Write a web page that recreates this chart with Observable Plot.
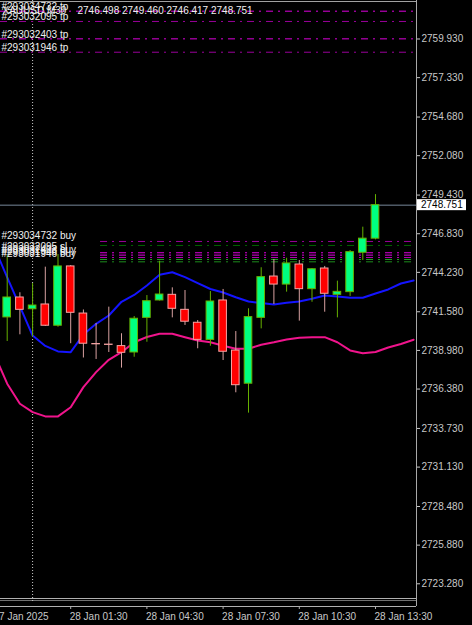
<!DOCTYPE html>
<html><head><meta charset="utf-8">
<script src="https://cdn.jsdelivr.net/npm/d3@7"></script>
<script src="https://cdn.jsdelivr.net/npm/@observablehq/plot@0.6"></script>
<style>
html,body{margin:0;padding:0;background:#000;overflow:hidden;}
svg{display:block;}
</style></head><body>
<script>
// ---- data ----
const symbol = "XAUUSD,M30";
const lastBar = ["2746.498", "2749.460", "2746.417", "2748.751"];
const bidPrice = 2748.751;

const open  = [2741.20,2742.54,2741.75,2742.07,2740.64,2744.63,2741.46,2739.41,2739.37,2739.27,2738.84,2741.17,2742.34,2742.72,2741.71,2740.84,2739.69,2742.34,2738.97,2736.74,2741.17,2743.95,2743.41,2744.76,2743.10,2744.49,2742.72,2742.90,2745.55,2746.498];
const high  = [2745.37,2742.86,2743.48,2744.58,2745.43,2744.69,2741.70,2740.79,2741.89,2740.10,2741.26,2742.67,2744.98,2743.19,2743.01,2740.99,2742.94,2743.08,2740.25,2741.78,2744.54,2745.10,2745.18,2745.03,2744.49,2744.63,2743.64,2745.70,2747.27,2749.460];
const low   = [2739.58,2740.03,2739.87,2740.59,2740.54,2739.43,2738.47,2738.37,2738.84,2737.79,2738.52,2739.53,2742.30,2741.17,2740.66,2739.09,2739.26,2738.30,2736.13,2734.76,2740.43,2742.07,2742.90,2740.95,2742.22,2741.55,2741.17,2742.61,2745.03,2746.417];
const close = [2742.54,2741.71,2742.00,2740.64,2744.63,2741.51,2739.43,2739.39,2739.35,2738.82,2741.11,2742.29,2742.74,2741.78,2740.91,2739.69,2742.27,2738.89,2736.64,2741.22,2743.91,2743.41,2744.83,2743.10,2744.44,2742.79,2742.92,2745.59,2746.498,2748.751];

// indicator lines, bar index -1 .. 32 (shifted 3 bars forward)
const blueLine = [2745.90,2743.89,2741.94,2739.98,2739.28,2738.91,2738.86,2740.05,2740.77,2741.33,2742.25,2742.71,2743.35,2744.07,2744.24,2743.91,2743.50,2743.11,2742.88,2742.56,2742.27,2742.17,2742.07,2742.18,2742.27,2742.45,2742.68,2742.61,2742.52,2742.52,2742.81,2743.08,2743.48,2743.68];
const pinkLine = [2738.70,2736.74,2735.39,2734.83,2734.54,2734.54,2735.16,2736.51,2737.52,2738.35,2738.86,2739.53,2739.88,2740.10,2740.10,2739.87,2739.65,2739.53,2739.29,2739.09,2739.09,2739.36,2739.53,2739.72,2739.83,2739.87,2739.87,2739.53,2738.98,2738.79,2738.87,2739.18,2739.41,2739.70];

const yTicks = [2759.930,2757.330,2754.680,2752.080,2749.430,2746.830,2744.230,2741.580,2738.980,2736.380,2733.730,2731.130,2728.480,2725.880,2723.280];
const timeTickIndex = [-1, 5, 11, 17, 23, 29];
const timeTickLabels = ["27 Jan 2025","28 Jan 01:30","28 Jan 04:30","28 Jan 07:30","28 Jan 10:30","28 Jan 13:30"];
const daySeparatorIndex = [2];

const tpPrices = [2761.80, 2761.11, 2759.94, 2759.04];
const tpLabels = ["#293034732 tp", "#293032095 tp", "#293032403 tp", "#293031946 tp"];
const orderPrices = [2746.31, 2746.04, 2745.55, 2745.39, 2745.23, 2745.10, 2744.94];
const orderLabels = ["#293034732 buy", "", "#293032095 sl", "#293032403 buy", "#293031946 sl", "#293031946 buy", ""];
const orderStartIndex = 7.35;

// ---- styles ----
const tpColors = ["#dd00dd", "#990099", "#dd00dd", "#990099"];
const orderColors = ["#990099", "#006400", "#dd00dd", "#dd00dd", "#b000b0", "#22a022", "#1c8c1c"];
const bullFill = "#00ff80", bullLine = "#66b000";
const bearFill = "#ff0000", bearLine = "#f4a4a4", bearWick = "#d8a0a0";
const dash = "7,5,2,5";

// ---- build ----
const xMin = -0.5276, xMax = 32.228;
const yMin = 2722.29, yMax = 2762.52;

const candles = d3.range(open.length).map(i => ({i, o: open[i], h: high[i], l: low[i], c: close[i]}));
const isBull = d => d.c > d.o;
const blueData = blueLine.map((v, k) => ({i: k - 1, v}));
const pinkData = pinkLine.map((v, k) => ({i: k - 1, v}));
const tpData = tpPrices.map((p, k) => ({p, t: tpLabels[k], col: tpColors[k]}));
const ordData = orderPrices.map((p, k) => ({p, t: orderLabels[k], col: orderColors[k]}));

const chart = Plot.plot({
  width: 472, height: 625,
  marginTop: 0, marginLeft: 0, marginRight: 56, marginBottom: 27,
  style: {background: "#000", color: "#c8c8c8", fontFamily: "'Liberation Sans', Arial, sans-serif", fontSize: "10px"},
  x: {domain: [xMin, xMax], axis: null},
  y: {domain: [yMin, yMax], axis: "right", ticks: yTicks, tickFormat: d => d.toFixed(3), tickSize: 3, tickPadding: 2, label: null},
  marks: [
    // frame lines
    Plot.ruleY([yMax], {stroke: "#a0a0a0", dy: 1}),
    Plot.ruleY([yMin], {stroke: "#b0b0b0"}),
    Plot.ruleY([yMin], {stroke: "#707070", dy: 2}),
    Plot.ruleY([yMin], {stroke: "#b0b0b0", dy: 8}),
    Plot.ruleX(timeTickIndex, {x: d => d, stroke: "#b0b0b0", insetTop: 606, insetBottom: -11}),
    Plot.ruleX([xMax], {stroke: "#a8a8a8", insetBottom: -8}),
    Plot.ruleX(daySeparatorIndex, {x: d => d, stroke: "#c8c8c8", strokeDasharray: "1,2", insetBottom: -5}),
    // order lines
    Plot.ruleY(tpData, {y: "p", x1: () => xMin, x2: () => xMax, stroke: "col", strokeDasharray: dash}),
    Plot.ruleY(ordData, {y: "p", x1: () => orderStartIndex, x2: () => xMax, stroke: "col", strokeDasharray: dash}),
    // indicator lines
    Plot.line(blueData, {x: "i", y: "v", stroke: "#1414ff", strokeWidth: 2}),
    Plot.line(pinkData, {x: "i", y: "v", stroke: "#f0148c", strokeWidth: 2}),
    // bid line
    Plot.ruleY([bidPrice], {stroke: "#778899"}),
    // candles
    Plot.ruleX(candles, {x: "i", y1: "l", y2: "h", stroke: d => isBull(d) ? bullLine : bearWick}),
    Plot.rect(candles, {x1: d => d.i - 0.3, x2: d => d.i + 0.3, y1: "o", y2: "c",
      fill: d => isBull(d) ? bullFill : bearFill, stroke: d => isBull(d) ? bullLine : bearLine}),
    // labels
    Plot.text(tpData, {y: "p", text: "t", frameAnchor: "left", dx: 1, dy: -1, textAnchor: "start", lineAnchor: "bottom", fill: "#f0f0f0"}),
    Plot.text(ordData.filter(d => d.t), {y: "p", text: "t", frameAnchor: "left", dx: 1, dy: -2.5, textAnchor: "start", lineAnchor: "bottom", fill: "#f0f0f0"}),
    Plot.text([symbol], {frameAnchor: "top-left", dx: 2, dy: 13, textAnchor: "start", lineAnchor: "bottom", fill: "#f0f0f0"}),
    Plot.text([lastBar.join(" ")], {frameAnchor: "top-left", dx: 77, dy: 13, textAnchor: "start", lineAnchor: "bottom", fill: "#f0f0f0"}),
    // time axis
    Plot.text(timeTickIndex, {x: d => d, text: (d, k) => timeTickLabels[k], frameAnchor: "bottom", dx: -1, dy: 21, textAnchor: "start", lineAnchor: "bottom", fill: "#c8c8c8"})
  ]
});
document.body.appendChild(chart);

// bid price label box on the price axis
const yb = chart.scale("y").apply(bidPrice);
const svg = d3.select(chart);
svg.append("rect").attr("x", 417).attr("y", yb - 5.5).attr("width", 49).attr("height", 11).attr("fill", "#fff");
svg.append("text").attr("x", 421).attr("y", yb).attr("dy", "0.35em").attr("fill", "#000")
  .attr("text-anchor", "start")
  .style("font-family", "'Liberation Sans', Arial, sans-serif").style("font-size", "10px").text(bidPrice.toFixed(3));
</script>
</body></html>
